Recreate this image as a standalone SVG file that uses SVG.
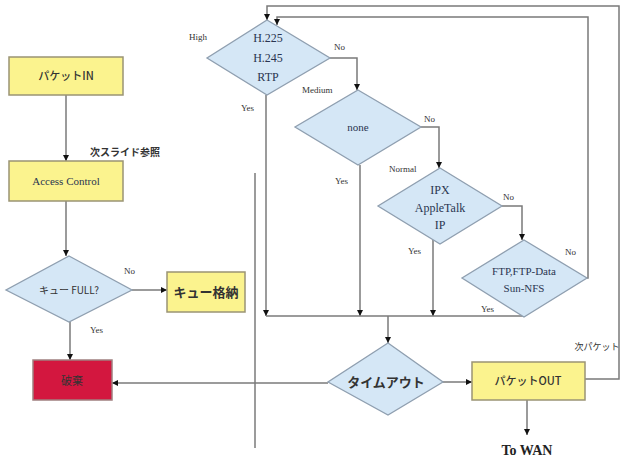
<svg xmlns="http://www.w3.org/2000/svg" width="622" height="466" viewBox="0 0 622 466">
<defs>
<marker id="ah" viewBox="0 0 10 10" refX="10" refY="5" markerWidth="6" markerHeight="6" orient="auto" markerUnits="userSpaceOnUse">
<path d="M0,0 L10,5 L0,10 z" fill="#111"/>
</marker>
<style>
.box{fill:#fbf38e;stroke:#9a9474;stroke-width:1.5}
.red{fill:#d3173f;stroke:#a08080;stroke-width:1.5}
.dia{fill:#d5e7f6;stroke:#8f9fb0;stroke-width:1.3}
.ln{fill:none;stroke:#7a7a7a;stroke-width:1.5}
.arr{fill:none;stroke:#7a7a7a;stroke-width:1.5;marker-end:url(#ah)}
.en{font-family:"Liberation Serif",serif;fill:#2a3550;text-anchor:middle}
.sm{font-family:"Liberation Serif",serif;font-size:9px;fill:#333}
.jp{font-family:"Noto Sans CJK JP",sans-serif;text-anchor:middle;fill:#333}
</style>
</defs>
<rect width="622" height="466" fill="#fff"/>

<g id="connectors">
<path class="arr" d="M66,95 V161"/>
<path class="arr" d="M66,201 V256"/>
<path class="arr" d="M132,290 H167"/>
<path class="arr" d="M70,322 V360"/>
<path class="arr" d="M328,383 H112"/>
<path class="ln" d="M255,173 V448" stroke-width="1.2"/>
<path class="arr" d="M330,58 H357 V90"/>
<path class="arr" d="M266,95 V316"/>
<path class="arr" d="M421,127 H439 V168"/>
<path class="arr" d="M360,165 V316"/>
<path class="arr" d="M502,206 H522 V240"/>
<path class="arr" d="M433,240 V316"/>
<path class="arr" d="M587,278 H588 V17 H277 V25"/>
<path class="ln" d="M266,316 H523"/>
<path class="arr" d="M388,316 V343"/>
<path class="arr" d="M443,382 H472"/>
<path class="arr" d="M585,379 H619 V6 H267 V20"/>
<path class="arr" d="M527,400 V435"/>
</g>

<g id="packet-in"><rect class="box" x="9" y="57" width="114" height="38"/><text class="jp" x="66" y="80" font-size="11" font-weight="500">パケットIN</text></g>
<g id="access-control"><rect class="box" x="9" y="161" width="114" height="40"/><text class="en" x="66" y="185" font-size="11" fill="#333">Access Control</text></g>
<g id="queue-full"><polygon class="dia" points="69,256 132,290 69,322 6,290"/><text class="jp" x="69" y="294" font-size="10">キュー FULL?</text></g>
<g id="queue-store"><rect class="box" x="167" y="272" width="78" height="40"/><text class="jp" x="206" y="297" font-size="13" font-weight="bold" fill="#222">キュー格納</text></g>
<g id="discard"><rect class="red" x="33" y="360" width="79" height="40"/><text class="jp" x="72" y="385" font-size="11" fill="#444">破棄</text></g>

<g id="d-high"><polygon class="dia" points="267,20 330,58 267,95 207,58"/>
<text class="en" font-size="12"><tspan x="268" y="42">H.225</tspan><tspan x="268" y="62">H.245</tspan><tspan x="268" y="81">RTP</tspan></text></g>
<g id="d-medium"><polygon class="dia" points="358,90 421,127 358,165 295,127"/><text class="en" x="358" y="131" font-size="11">none</text></g>
<g id="d-normal"><polygon class="dia" points="440,168 502,206 440,244 378,206"/>
<text class="en" font-size="12"><tspan x="440" y="194">IPX</tspan><tspan x="440" y="212">AppleTalk</tspan><tspan x="440" y="229">IP</tspan></text></g>
<g id="d-low"><polygon class="dia" points="524,240 587,278 524,317 462,278"/>
<text class="en" font-size="11"><tspan x="524" y="275">FTP,FTP-Data</tspan><tspan x="524" y="292">Sun-NFS</tspan></text></g>
<g id="timeout"><polygon class="dia" points="388,343 443,382 388,415 328,382"/><text class="jp" x="386" y="387" font-size="13" font-weight="bold" fill="#1f3050">タイムアウト</text></g>
<g id="packet-out"><rect class="box" x="472" y="362" width="113" height="38"/><text class="jp" x="528" y="385" font-size="11" font-weight="500">パケットOUT</text></g>
<g id="to-wan"><text x="527" y="455" font-family="Liberation Serif,serif" font-size="14" font-weight="bold" text-anchor="middle" fill="#222">To WAN</text></g>

<g id="labels">
<text class="jp" x="125" y="156" font-size="10" font-weight="bold" fill="#222">次スライド参照</text>
<text class="sm" x="124" y="274">No</text>
<text class="sm" x="90" y="333">Yes</text>
<text class="sm" x="189" y="40">High</text>
<text class="sm" x="241" y="111">Yes</text>
<text class="sm" x="334" y="50">No</text>
<text class="sm" x="302" y="93">Medium</text>
<text class="sm" x="424" y="122">No</text>
<text class="sm" x="335" y="184">Yes</text>
<text class="sm" x="389" y="172">Normal</text>
<text class="sm" x="503" y="200">No</text>
<text class="sm" x="408" y="254">Yes</text>
<text class="sm" x="565" y="255">No</text>
<text class="sm" x="481" y="312">Yes</text>
<text class="jp" x="597" y="350" font-size="9" fill="#333">次パケット</text>
</g>
</svg>
